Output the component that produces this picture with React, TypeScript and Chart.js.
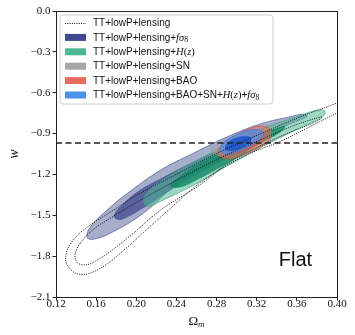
import React, { useEffect, useRef } from 'react';
import { Chart, registerables } from 'chart.js';

Chart.register(...registerables);

// ---------- data ----------
const X_TICKS = [0.12, 0.16, 0.2, 0.24, 0.28, 0.32, 0.36, 0.4];
const Y_TICKS = [0.0, -0.3, -0.6, -0.9, -1.2, -1.5, -1.8, -2.1];
const W_LCDM = -0.97;

const SERIES = [
  'TT+lowP+lensing',
  'TT+lowP+lensing+fσ8',
  'TT+lowP+lensing+H(z)',
  'TT+lowP+lensing+SN',
  'TT+lowP+lensing+BAO',
  'TT+lowP+lensing+BAO+SN+H(z)+fσ8',
];

// TT+lowP+lensing (dotted) contours
const TT_2SIG = [
  [0.130, -1.787], [0.137, -1.684], [0.151, -1.588], [0.174, -1.478], [0.204, -1.338],
  [0.244, -1.184], [0.283, -1.037], [0.323, -0.904], [0.363, -0.779], [0.400, -0.676],
  [0.413, -0.640], [0.413, -0.706], [0.400, -0.750], [0.370, -0.860], [0.346, -0.949],
  [0.303, -1.081], [0.263, -1.265], [0.234, -1.449], [0.204, -1.647], [0.191, -1.735],
  [0.164, -1.890], [0.144, -1.934], [0.132, -1.875],
];
const TT_1SIG = [
  [0.144, -1.706], [0.156, -1.610], [0.174, -1.522], [0.204, -1.390], [0.244, -1.228],
  [0.283, -1.081], [0.323, -0.949], [0.353, -0.853], [0.373, -0.801], [0.385, -0.779],
  [0.378, -0.816], [0.353, -0.890], [0.323, -0.993], [0.293, -1.110], [0.263, -1.279],
  [0.224, -1.463], [0.191, -1.669], [0.157, -1.846], [0.144, -1.860], [0.139, -1.809],
  [0.141, -1.743],
];
// + f sigma8
const FS8_2SIG = [
  [0.151, -1.662], [0.154, -1.588], [0.174, -1.441], [0.191, -1.340], [0.224, -1.169],
  [0.257, -1.044], [0.290, -0.926], [0.323, -0.831], [0.356, -0.772], [0.368, -0.758],
  [0.370, -0.775], [0.356, -0.820], [0.340, -0.868], [0.306, -0.971], [0.273, -1.118],
  [0.241, -1.265], [0.207, -1.485], [0.174, -1.632], [0.157, -1.676],
];
const FS8_1SIG = [
  [0.178, -1.500], [0.189, -1.404], [0.204, -1.316], [0.224, -1.235], [0.253, -1.125],
  [0.288, -1.007], [0.313, -0.941], [0.325, -0.912], [0.321, -0.956], [0.293, -1.066],
  [0.258, -1.206], [0.229, -1.338], [0.209, -1.434], [0.192, -1.507], [0.182, -1.530],
];
// + H(z)
const HZ_2SIG = [
  [0.207, -1.390], [0.214, -1.309], [0.224, -1.250], [0.257, -1.110], [0.290, -0.985],
  [0.323, -0.868], [0.356, -0.787], [0.380, -0.728], [0.388, -0.735], [0.385, -0.779],
  [0.363, -0.860], [0.336, -0.956], [0.303, -1.088], [0.290, -1.140], [0.257, -1.279],
  [0.224, -1.397], [0.212, -1.434],
];
const HZ_1SIG = [
  [0.234, -1.279], [0.244, -1.213], [0.257, -1.147], [0.290, -1.022], [0.323, -0.912],
  [0.338, -0.868], [0.348, -0.846], [0.343, -0.890], [0.323, -0.971], [0.290, -1.118],
  [0.257, -1.250], [0.242, -1.294],
];
// + SN
const SN_2SIG = [
  [0.275, -1.022], [0.283, -0.971], [0.298, -0.919], [0.313, -0.882], [0.325, -0.868],
  [0.330, -0.890], [0.325, -0.934], [0.311, -0.993], [0.296, -1.044], [0.281, -1.059],
];
const SN_1SIG = [
  [0.285, -1.007], [0.298, -0.956], [0.313, -0.919], [0.321, -0.919], [0.318, -0.956],
  [0.305, -1.000], [0.291, -1.029],
];
// + BAO
const BAO_2SIG = [
  [0.281, -1.029], [0.288, -0.971], [0.301, -0.904], [0.315, -0.860], [0.327, -0.846],
  [0.334, -0.875], [0.334, -0.934], [0.325, -0.993], [0.311, -1.044], [0.296, -1.081],
  [0.285, -1.074],
];
const BAO_1SIG = [
  [0.288, -1.022], [0.295, -0.963], [0.308, -0.912], [0.321, -0.882], [0.328, -0.904],
  [0.325, -0.956], [0.313, -1.007], [0.299, -1.044], [0.291, -1.051],
];
// combined
const ALL_2SIG = [
  [0.283, -1.015], [0.289, -0.956], [0.301, -0.904], [0.313, -0.875], [0.323, -0.875],
  [0.327, -0.904], [0.321, -0.956], [0.309, -1.007], [0.296, -1.044], [0.286, -1.044],
];
const ALL_1SIG = [
  [0.289, -1.000], [0.293, -0.956], [0.304, -0.926], [0.313, -0.926], [0.314, -0.956],
  [0.307, -0.993], [0.297, -1.022], [0.290, -1.022],
];

// ---------- styles ----------
const COLORS = {
  fs8: '#3f4a8e',
  hz: '#4cb892',
  sn: '#a6a6a6',
  bao: '#e86b5f',
  all: '#4a93e8',
};
const SANS = '"Liberation Sans", Arial, sans-serif';
const SERIF = '"Liberation Serif", "DejaVu Serif", serif';

const toPts = (a: number[][]) => a.map(([x, y]) => ({ x, y }));

function filled(label: string, arr: number[][], bg: string, edge: string, order: number) {
  return {
    label,
    data: toPts(arr),
    backgroundColor: bg,
    borderColor: edge,
    borderWidth: 0.8,
    fill: 'shape',
    tension: 0.4,
    pointRadius: 0,
    order,
    closed: true,
  };
}
function dotted(label: string, arr: number[][], order: number) {
  return {
    label,
    data: toPts(arr),
    borderColor: '#111',
    borderWidth: 1,
    borderDash: [1, 1.3],
    fill: false,
    tension: 0.4,
    pointRadius: 0,
    order,
    closed: true,
  };
}

const loopPlugin = {
  id: 'loopPlugin',
  afterDatasetsUpdate(chart: any) {
    chart.data.datasets.forEach((ds: any, i: number) => {
      if (!ds.closed) return;
      const line: any = chart.getDatasetMeta(i).dataset;
      if (!line) return;
      line._loop = true;
      line._fullLoop = true;
      line._pointsUpdated = false;
      line._segments = undefined;
      line._path = undefined;
    });
  },
};

type Seg = { t: string; f: string; dy?: number };
const LEGEND_ROWS: { kind: 'dot' | 'box'; color: string; segs: Seg[] }[] = (() => {
  const base = (s: string): Seg => ({ t: s, f: `10px ${SANS}` });
  const it = (s: string): Seg => ({ t: s, f: `italic 10.5px ${SERIF}` });
  const rm = (s: string): Seg => ({ t: s, f: `10.5px ${SERIF}` });
  const sub = (s: string): Seg => ({ t: s, f: `7.5px ${SERIF}`, dy: 2.5 });
  const fs8 = [it('fσ'), sub('8')];
  const hz = [it('H'), rm('('), it('z'), rm(')')];
  return [
    { kind: 'dot', color: '#111', segs: [base(SERIES[0])] },
    { kind: 'box', color: COLORS.fs8, segs: [base('TT+lowP+lensing+'), ...fs8] },
    { kind: 'box', color: COLORS.hz, segs: [base('TT+lowP+lensing+'), ...hz] },
    { kind: 'box', color: COLORS.sn, segs: [base(SERIES[3])] },
    { kind: 'box', color: COLORS.bao, segs: [base(SERIES[4])] },
    { kind: 'box', color: COLORS.all, segs: [base('TT+lowP+lensing+BAO+SN+'), ...hz, base('+'), ...fs8] },
  ];
})();

const decorPlugin = {
  id: 'decor',
  afterDraw(chart: any) {
    const ctx = chart.ctx as CanvasRenderingContext2D;
    const a = chart.chartArea;
    const xs = chart.scales.x;
    const ys = chart.scales.y;
    ctx.save();
    // frame
    ctx.strokeStyle = '#222';
    ctx.lineWidth = 1;
    ctx.strokeRect(Math.round(a.left) + 0.5, Math.round(a.top) + 0.5, Math.round(a.right - a.left), Math.round(a.bottom - a.top));

    // legend
    const lx = a.left + 4, ly = a.top + 4, lw = 213, lh = 89;
    ctx.beginPath();
    const r = 3;
    ctx.moveTo(lx + r, ly);
    ctx.arcTo(lx + lw, ly, lx + lw, ly + lh, r);
    ctx.arcTo(lx + lw, ly + lh, lx, ly + lh, r);
    ctx.arcTo(lx, ly + lh, lx, ly, r);
    ctx.arcTo(lx, ly, lx + lw, ly, r);
    ctx.closePath();
    ctx.fillStyle = 'rgba(255,255,255,0.85)';
    ctx.fill();
    ctx.strokeStyle = '#cfcfcf';
    ctx.lineWidth = 1;
    ctx.stroke();
    LEGEND_ROWS.forEach((row, i) => {
      const cy = ly + 8 + i * 14.4;
      if (row.kind === 'dot') {
        ctx.beginPath();
        ctx.setLineDash([1, 1.3]);
        ctx.strokeStyle = row.color;
        ctx.lineWidth = 1;
        ctx.moveTo(lx + 5, cy + 0.5);
        ctx.lineTo(lx + 26, cy + 0.5);
        ctx.stroke();
        ctx.setLineDash([]);
      } else {
        ctx.fillStyle = row.color;
        ctx.fillRect(lx + 5, cy - 3.5, 21, 7);
      }
      let tx = lx + 33;
      ctx.fillStyle = '#111';
      ctx.textBaseline = 'middle';
      ctx.textAlign = 'left';
      row.segs.forEach((s) => {
        ctx.font = s.f;
        ctx.fillText(s.t, tx, cy + 0.5 + (s.dy || 0));
        tx += ctx.measureText(s.t).width;
      });
    });

    // "Flat"
    ctx.fillStyle = '#111';
    ctx.font = `20px ${SANS}`;
    ctx.textBaseline = 'alphabetic';
    ctx.textAlign = 'left';
    ctx.fillText('Flat', xs.getPixelForValue(0.342), ys.getPixelForValue(-1.87));

    // axis titles
    ctx.font = `13px ${SERIF}`;
    ctx.textBaseline = 'middle';
    const cx = (a.left + a.right) / 2;
    const oy = 322;
    const ow = ctx.measureText('Ω').width;
    ctx.font = `italic 9px ${SERIF}`;
    const mw = ctx.measureText('m').width;
    const sx = cx - (ow + mw) / 2;
    ctx.font = `13px ${SERIF}`;
    ctx.fillText('Ω', sx, oy);
    ctx.font = `italic 9px ${SERIF}`;
    ctx.fillText('m', sx + ow, oy + 3);

    ctx.translate(14, (a.top + a.bottom) / 2);
    ctx.rotate(-Math.PI / 2);
    ctx.textAlign = 'center';
    ctx.font = `italic 14px ${SERIF}`;
    ctx.fillText('w', 0, 0);
    ctx.restore();
  },
};

export default function App() {
  const ref = useRef<HTMLCanvasElement | null>(null);
  useEffect(() => {
    document.body.style.margin = '0';
    const canvas = ref.current!;
    const fmt = (v: number, d: number) => (v < 0 ? '\u2212' : '') + Math.abs(v).toFixed(d);
    const datasets: any[] = [
      {
        label: 'w = -1',
        data: [{ x: X_TICKS[0], y: W_LCDM }, { x: X_TICKS[X_TICKS.length - 1], y: W_LCDM }],
        borderColor: '#222',
        borderWidth: 1.5,
        borderDash: [6, 3.5],
        fill: false,
        pointRadius: 0,
        tension: 0,
        order: 0,
      },
      dotted(SERIES[0] + ' 1σ', TT_1SIG, 1),
      dotted(SERIES[0] + ' 2σ', TT_2SIG, 2),
      filled(SERIES[5] + ' 1σ', ALL_1SIG, 'rgba(30,85,205,0.9)', 'rgba(30,85,205,1)', 3),
      filled(SERIES[5] + ' 2σ', ALL_2SIG, 'rgba(74,147,232,0.75)', 'rgba(50,120,220,0.9)', 4),
      filled(SERIES[4] + ' 1σ', BAO_1SIG, 'rgba(225,90,80,0.55)', 'rgba(220,80,70,0.8)', 5),
      filled(SERIES[4] + ' 2σ', BAO_2SIG, 'rgba(232,107,95,0.55)', 'rgba(220,80,70,0.9)', 6),
      filled(SERIES[3] + ' 1σ', SN_1SIG, 'rgba(140,140,140,0.6)', 'rgba(130,130,130,0.8)', 7),
      filled(SERIES[3] + ' 2σ', SN_2SIG, 'rgba(166,166,166,0.55)', 'rgba(140,140,140,0.8)', 8),
      filled(SERIES[2] + ' 1σ', HZ_1SIG, 'rgba(18,135,100,0.8)', 'rgba(18,135,100,0.9)', 9),
      filled(SERIES[2] + ' 2σ', HZ_2SIG, 'rgba(76,184,146,0.55)', 'rgba(60,170,135,0.9)', 10),
      filled(SERIES[1] + ' 1σ', FS8_1SIG, 'rgba(63,74,141,0.75)', 'rgba(63,74,141,0.9)', 11),
      filled(SERIES[1] + ' 2σ', FS8_2SIG, 'rgba(63,74,141,0.45)', 'rgba(63,74,141,0.8)', 12),
    ];
    const chart = new Chart(canvas, {
      type: 'line',
      data: { datasets },
      options: {
        responsive: false,
        animation: false,
        events: [],
        layout: { padding: { left: 0, top: 11, right: 18, bottom: 0 } },
        plugins: { legend: { display: false }, tooltip: { enabled: false } },
        scales: {
          x: {
            type: 'linear',
            min: X_TICKS[0],
            max: X_TICKS[X_TICKS.length - 1],
            afterBuildTicks: (s: any) => { s.ticks = X_TICKS.map((v) => ({ value: v })); },
            afterFit: (s: any) => { s.height = 38; },
            grid: { display: true, drawOnChartArea: false, drawTicks: true, tickLength: 3.5, color: '#222' },
            border: { display: true, color: '#222', width: 1 },
            ticks: {
              autoSkip: false,
              maxRotation: 0,
              padding: -2,
              color: '#111',
              font: { family: SERIF, size: 11, lineHeight: 1 },
              callback: (v: any) => fmt(Number(v), 2),
            },
          },
          y: {
            type: 'linear',
            min: Y_TICKS[Y_TICKS.length - 1],
            max: Y_TICKS[0],
            afterBuildTicks: (s: any) => { s.ticks = Y_TICKS.map((v) => ({ value: v })); },
            afterFit: (s: any) => { s.width = 56; },
            grid: { display: true, drawOnChartArea: false, drawTicks: true, tickLength: 3.5, color: '#222' },
            border: { display: true, color: '#222', width: 1 },
            ticks: {
              autoSkip: false,
              padding: 2,
              color: '#111',
              font: { family: SERIF, size: 11, lineHeight: 1 },
              callback: (v: any) => fmt(Number(v), 1),
            },
          },
        },
      } as any,
      plugins: [loopPlugin, decorPlugin],
    });
    return () => chart.destroy();
  }, []);
  return <canvas ref={ref} width={355} height={335} style={{ display: 'block' }} />;
}
